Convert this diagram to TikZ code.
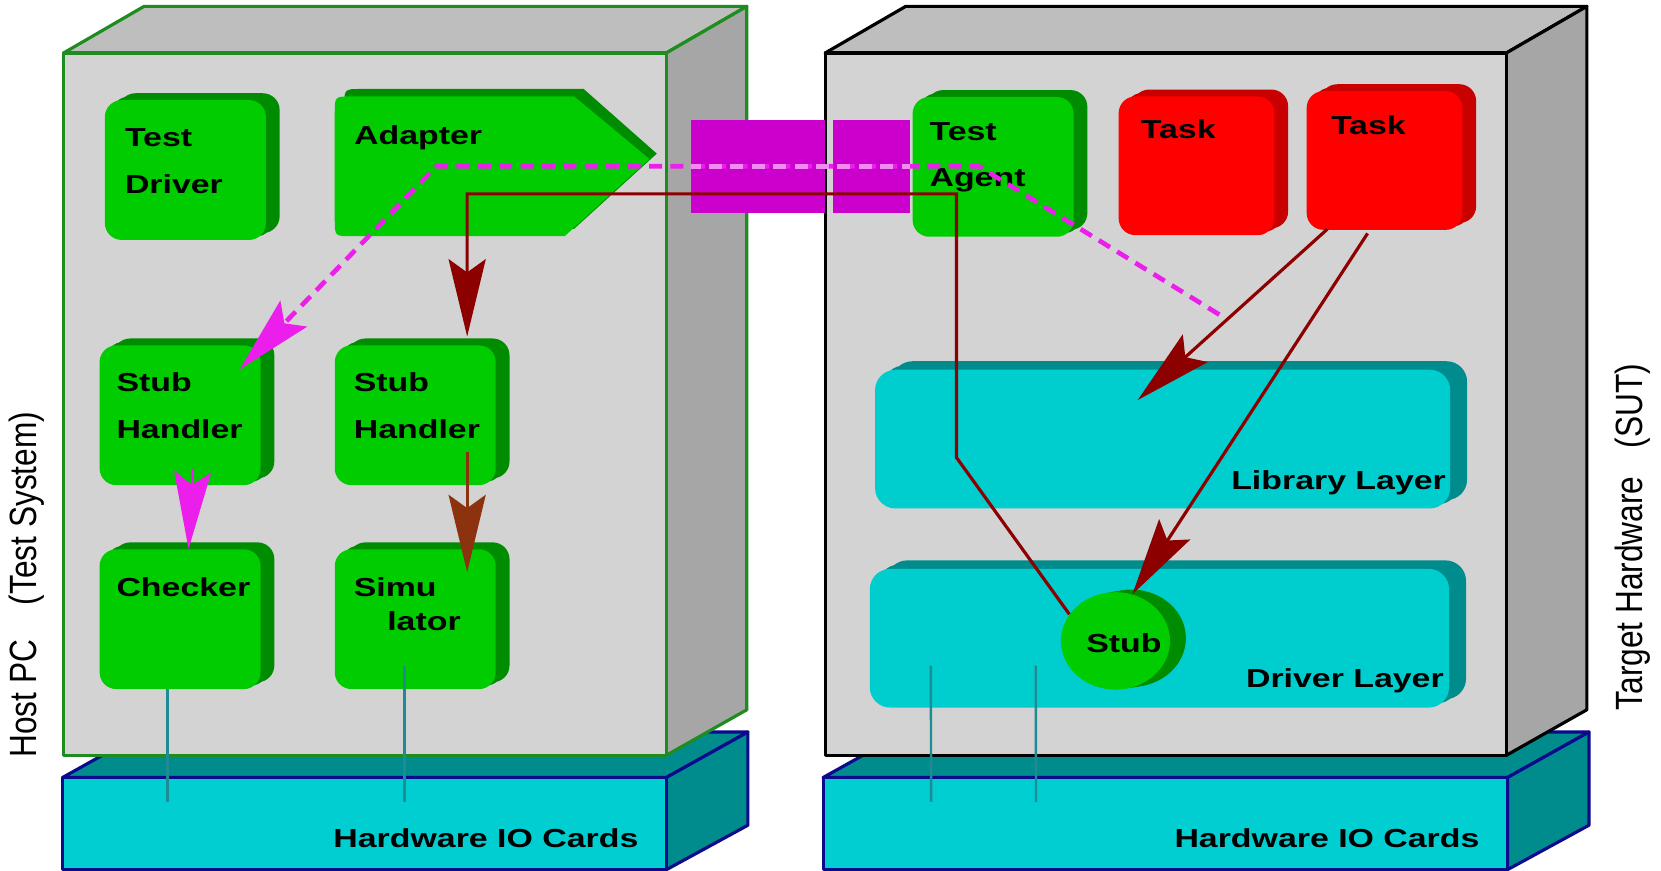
\documentclass[tikz,border=0pt]{standalone}
\usepackage{fontspec}
\setmainfont{Liberation Sans}
\newfontfamily\boxfont{Liberation Sans}[FakeStretch=1.3]
\usetikzlibrary{positioning, arrows.meta, calc, shapes.geometric, shadows}
\definecolor{caseFront}{RGB}{211,211,211}
\definecolor{caseTop}{RGB}{190,190,190}
\definecolor{caseSide}{RGB}{166,166,166}
\definecolor{hostEdge}{RGB}{30,140,30}
\definecolor{cardFront}{RGB}{0,206,209}
\definecolor{cardDark}{RGB}{0,140,140}
\definecolor{cardEdge}{RGB}{10,10,140}
\definecolor{modGreen}{RGB}{0,204,0}
\definecolor{modGreenDk}{RGB}{0,140,0}
\definecolor{taskRed}{RGB}{255,0,0}
\definecolor{taskRedDk}{RGB}{200,0,0}
\definecolor{layerCyan}{RGB}{0,206,206}
\definecolor{layerDk}{RGB}{0,140,140}
\definecolor{linkMag}{RGB}{204,0,204}
\definecolor{sigMag}{RGB}{235,30,235}
\definecolor{sigPale}{RGB}{242,140,242}
\definecolor{ctrlRed}{RGB}{140,0,0}
\definecolor{simBrown}{RGB}{140,50,15}
\definecolor{wireTeal}{RGB}{30,140,150}
\tikzset{
    barb/.tip={Stealth[length=1.46cm, width=0.7cm, inset=0.25cm]},
    % raised look: two shifted copies behind the front face
    raised/.style={
        copy shadow={shadow xshift=0.26cm, shadow yshift=0.13cm,
                     fill=#1, draw=none},
        copy shadow={shadow xshift=0.13cm, shadow yshift=0.065cm,
                     fill=#1, draw=none},
    },
    modbox/.style={
        rectangle, rounded corners=9pt, inner sep=0pt,
        minimum width=3.04cm, minimum height=2.64cm,
        fill=modGreen, raised=modGreenDk,
    },
    taskbox/.style={
        rectangle, rounded corners=9pt, inner sep=0pt,
        minimum width=2.94cm, minimum height=2.62cm,
        fill=taskRed, raised=taskRedDk,
    },
    layerbox/.style={
        rectangle, rounded corners=11pt, inner sep=0pt,
        minimum height=2.62cm, fill=layerCyan,
        copy shadow={shadow xshift=0.32cm, shadow yshift=0.16cm,
                     fill=layerDk, draw=none},
        copy shadow={shadow xshift=0.16cm, shadow yshift=0.08cm,
                     fill=layerDk, draw=none},
    },
    stubdisc/.style={
        ellipse, inner sep=0pt, fill=modGreen,
        minimum width=2.06cm, minimum height=1.84cm,
        copy shadow={shadow xshift=0.3cm, shadow yshift=0.05cm,
                     fill=modGreenDk, draw=none},
        copy shadow={shadow xshift=0.15cm, shadow yshift=0.025cm,
                     fill=modGreenDk, draw=none},
    },
    modtext/.style={
        font=\boxfont\bfseries\fontsize{14pt}{25pt}\selectfont,
        inner sep=0pt, align=left, anchor=north west,
    },
    sidelabel/.style={
        font=\fontsize{17pt}{20pt}\selectfont,
        inner sep=0pt, xscale=1.2, rotate=90,
    },
    caseface/.style={line width=1.7pt, line join=round},
    cardface/.style={draw=cardEdge, line width=1.7pt, line join=round},
    wire/.style={draw=wireTeal, line width=1.3pt},
    ctrl/.style={draw=ctrlRed, line width=1.7pt, -barb},
    simline/.style={draw=simBrown, line width=1.7pt, -barb},
    sig/.style={draw=sigMag, line width=2.5pt,
        dash pattern=on 7pt off 4.5pt, -barb},
    sighead/.style={draw=sigMag, line width=1pt, -barb},
}
\begin{document}
\begin{tikzpicture}[x=0.02cm, y=-0.02cm]
\fill[white] (0,0) rectangle (1568,822);
\useasboundingbox (0,0) rectangle (1568,822);

% ---- IO cards (below both cabinets)
\foreach \xa/\xb in {59/629, 777/1423} {
    \path[cardface, fill=cardDark]
        (\xa,734) -- ++(77,-43) -- (\xb+77,691) -- (\xb,734) -- cycle;
    \path[cardface, fill=cardDark]
        (\xb,734) -- ++(77,-43) -- ++(0,88) -- (\xb,821) -- cycle;
    \path[cardface, fill=cardFront] (\xa,734) rectangle (\xb,821);
}

% ---- host PC cabinet
\path[caseface, draw=hostEdge, fill=caseTop]
    (60,50) -- (136,6) -- (705,6) -- (629,50) -- cycle;
\path[caseface, draw=hostEdge, fill=caseSide]
    (629,50) -- (705,6) -- (705,670) -- (629,713) -- cycle;
\path[caseface, draw=hostEdge, fill=caseFront] (60,50) rectangle (629,713);

% ---- target cabinet
\path[caseface, draw=black, fill=caseTop]
    (779,50) -- (855,6) -- (1498,6) -- (1422,50) -- cycle;
\path[caseface, draw=black, fill=caseSide]
    (1422,50) -- (1498,6) -- (1498,670) -- (1422,713) -- cycle;
\path[caseface, draw=black, fill=caseFront] (779,50) rectangle (1422,713);

% ---- link between the two systems
\fill[linkMag] (652,113) rectangle (779,201);
\fill[linkMag] (786,113) rectangle (859,201);

% ---- host modules
\node[modbox] (td)  at (175,160.5) {};
\node[modbox] (sh1) at (170,392)   {};
\node[modbox] (sh2) at (392,392)   {};
\node[modbox] (ck)  at (170,584.5) {};
\node[modbox] (sim) at (392,584.5) {};

% adapter: arrow shaped block
\fill[modGreenDk] (551,84) -- (341,84) .. controls (325,84) .. (325,100)
    -- (325,200) .. controls (325,216) .. (341,216) -- (542,216)
    -- (620,145) -- cycle;
\fill[modGreen] (542,91) -- (332,91) .. controls (316,91) .. (316,107)
    -- (316,207) .. controls (316,223) .. (332,223) -- (533,223)
    -- (613,150) -- cycle;

% ---- target modules
\node[modbox]  (ta)  at (937.5,157.5) {};
\node[taskbox] (tk1) at (1129.5,156.5) {};
\node[taskbox] (tk2) at (1307,151.5) {};
\node[layerbox, minimum width=10.86cm] (lib) at (1097.5,414.5) {};
\node[layerbox, minimum width=10.94cm] (drv) at (1094.5,602.5) {};
\node[stubdisc] (stub) at (1053,605) {};

% ---- texts
\node[modtext] (tdT)  at ($(td.north west)+(19,27)$)  {Test\\Driver};
\node[modtext] (ad)   at (334,118)                     {Adapter};
\node[modtext] (sh1T) at ($(sh1.north west)+(16,26)$) {Stub\\Handler};
\node[modtext] (sh2T) at ($(sh2.north west)+(18,26)$) {Stub\\Handler};
\node[modtext] (ckT)  at ($(ck.north west)+(16,27)$)  {Checker};
\node[modtext] (simT) at ($(sim.north west)+(18,27)$)
    {Simu\\[-7pt]\hspace*{18pt}lator};
\node[modtext] (taT)  at ($(ta.north west)+(16,24)$)  {Test\\Agent};
\node[modtext] (tk1T) at ($(tk1.north west)+(21,22)$) {Task};
\node[modtext] (tk2T) at ($(tk2.north west)+(23,23)$) {Task};
\node[modtext, anchor=center] (stubT) at ($(stub.center)+(8,2)$) {Stub};
\node[modtext, anchor=north east] (libT) at ($(lib.north east)+(-4,95)$)
    {Library Layer};
\node[modtext, anchor=north east] (drvT) at ($(drv.north east)+(-5,94)$)
    {Driver Layer};
\node[modtext, anchor=north east] (io1) at (603,782) {Hardware IO Cards};
\node[modtext, anchor=north east] (io2) at (1397,782) {Hardware IO Cards};

\node[sidelabel] (host)   at (25,552)
    {Host PC\hspace{1.1em}(Test System)};
\node[sidelabel] (target) at (1541,507)
    {Target Hardware\hspace{0.9em}(SUT)};

% ---- wires to the IO cards
\coordinate (w1) at (158,757);
\coordinate (w2) at (382,757);
\coordinate (w3) at (879,757);
\coordinate (w4) at (978,757);
\draw[wire] ($(ck.south)+(-12,0)$) -- (w1);
\draw[wire] ($(sim.south)+(-10,-22)$) -- (w2);
\draw[wire] ($(drv.south west)+(58,-40)$) -- (w3);
\draw[wire] ($(drv.south west)+(157,-40)$) -- (w4);

% ---- control flow (dark red)
\coordinate (rb1) at (903,432);
\coordinate (rb2) at (903,183);
\draw[ctrl] (stub.150) -- (rb1) -- (rb2) -| ($(sh2.north)+(49,-8)$);
\draw[ctrl] ($(tk2.south)+(-54,-1)$) -- ($(lib.north)+(-23.5,29)$);
\draw[ctrl] ($(tk2.south)+(-16,3)$) -- (stub.70);
\draw[simline] ($(sh2.south)+(49,-32)$) -- ($(sim.north)+(49,22)$);

% ---- signal path (magenta, dashed)
\coordinate (sg1) at (1151,297);
\coordinate (sg2) at (924,157);
\coordinate (sg3) at (412,157);
\draw[sig] (sg1) -- (sg2) -- (sg3) -- ($(sh1.north east)+(-20,23)$);
% dashes read paler where they cross the link blocks
\begin{scope}
    \clip (652,113) rectangle (859,201);
    \draw[sig, draw=sigPale, -] (sg2) -- (sg3);
\end{scope}
\draw[sighead] ($(sh1.south)+(12,-16)$) -- ($(ck.north)+(8,0)$);

\end{tikzpicture}
\end{document}
